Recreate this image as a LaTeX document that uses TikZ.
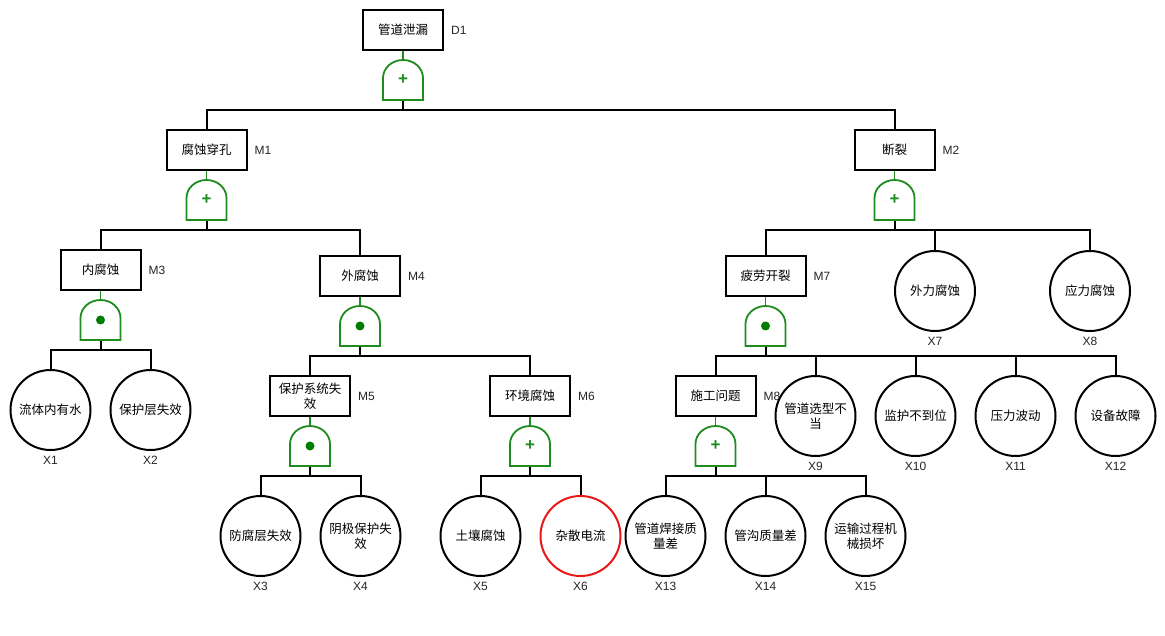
\documentclass[tikz,border=0pt]{standalone}
\usepackage{fontspec}
\setmainfont{Liberation Sans}
\newfontfamily\cjk{Noto Sans CJK SC}
\usetikzlibrary{positioning}

\definecolor{gatecol}{RGB}{30,140,30}
\definecolor{dotcol}{RGB}{0,125,0}
\definecolor{hotred}{RGB}{232,24,24}

\newcommand{\gatedome}{\draw[gatecol, line width=1.8pt]
  ([shift={(1pt,1pt)}]path picture bounding box.south west) -- ++(0pt,22pt)
  arc[start angle=180, end angle=0, x radius=20pt, y radius=18pt]
  -- ([shift={(-1pt,1pt)}]path picture bounding box.south east) -- cycle;}

\tikzset{
  event/.style={draw, line width=2pt, minimum width=80pt, minimum height=40pt,
    inner sep=1pt, align=center, font=\cjk\fontsize{12.5}{15}\selectfont},
  basic/.style={circle, draw, line width=2pt, minimum size=80pt, inner sep=0pt,
    align=center, font=\cjk\fontsize{12.5}{15}\selectfont},
  tag/.style={inner sep=1pt, font=\fontsize{12}{14}\selectfont, text=black!85},
  orgate/.style={minimum width=42pt, minimum height=42pt, inner sep=0pt,
    text=gatecol, font=\bfseries\fontsize{17}{17}\selectfont, path picture={\gatedome}},
  andgate/.style={minimum width=42pt, minimum height=42pt, inner sep=0pt,
    path picture={\gatedome
      \fill[dotcol] (path picture bounding box.center) circle[radius=4.5pt];}},
  feed/.style={gatecol, line width=1.8pt},
  link/.style={line width=2pt}
}

\begin{document}
\begin{tikzpicture}[x=1pt, y=-1pt]
\useasboundingbox[fill=white] (0,0) rectangle (1165,636);

% top event
\node[event] (D1) at (403,30) {管道泄漏};
\node[tag, right=6pt of D1] (tD1) {D1};
\node[orgate] (gD1) at (403,80) {+};
\draw[feed] (D1) -- (gD1);

% second level
\node[event] (M1) at (206.5,150) {腐蚀穿孔};
\node[tag, right=6pt of M1] (tM1) {M1};
\node[orgate] (gM1) at (206.5,200) {+};
\node[event] (M2) at (894.5,150) {断裂};
\node[tag, right=6pt of M2] (tM2) {M2};
\node[orgate] (gM2) at (894.5,200) {+};
\draw[link] (gD1.south) -- ++(0,9) -| (M1);
\draw[link] (gD1.south) -- ++(0,9) -| (M2);
\draw[feed] (M1) -- (gM1);
\draw[feed] (M2) -- (gM2);

% third level
\node[event] (M3) at (100.5,270) {内腐蚀};
\node[tag, right=6pt of M3] (tM3) {M3};
\node[andgate] (gM3) at (100.5,320) {};
\node[event] (M4) at (360,276) {外腐蚀};
\node[tag, right=6pt of M4] (tM4) {M4};
\node[andgate] (gM4) at (360,326) {};
\node[event] (M7) at (765.5,276) {疲劳开裂};
\node[tag, right=6pt of M7] (tM7) {M7};
\node[andgate] (gM7) at (765.5,326) {};
\node[basic] (X7) at (935,291) {外力腐蚀};
\node[basic] (X8) at (1090,291) {应力腐蚀};
\draw[link] (gM1.south) -- ++(0,9) -| (M3);
\draw[link] (gM1.south) -- ++(0,9) -| (M4);
\draw[link] (gM2.south) -- ++(0,9) -| (M7);
\draw[link] (gM2.south) -- ++(0,9) -| (X7);
\draw[link] (gM2.south) -- ++(0,9) -| (X8);
\draw[feed] (M3) -- (gM3);
\draw[feed] (M4) -- (gM4);
\draw[feed] (M7) -- (gM7);

% fourth level
\node[basic] (X1) at (50.5,410) {流体内有水};
\node[basic] (X2) at (150.5,410) {保护层失效};
\node[event] (M5) at (310,396) {保护系统失\\效};
\node[tag, right=6pt of M5] (tM5) {M5};
\node[andgate] (gM5) at (310,446) {};
\node[event] (M6) at (530,396) {环境腐蚀};
\node[tag, right=6pt of M6] (tM6) {M6};
\node[orgate] (gM6) at (530,446) {+};
\node[event] (M8) at (715.5,396) {施工问题};
\node[tag, right=6pt of M8] (tM8) {M8};
\node[orgate] (gM8) at (715.5,446) {+};
\node[basic] (X9) at (815.5,416) {管道选型不\\当};
\node[basic] (X10) at (915.5,416) {监护不到位};
\node[basic] (X11) at (1015.5,416) {压力波动};
\node[basic] (X12) at (1115.5,416) {设备故障};
\draw[link] (gM3.south) -- ++(0,9) -| (X1);
\draw[link] (gM3.south) -- ++(0,9) -| (X2);
\draw[link] (gM4.south) -- ++(0,9) -| (M5);
\draw[link] (gM4.south) -- ++(0,9) -| (M6);
\draw[link] (gM7.south) -- ++(0,9) -| (M8);
\draw[link] (gM7.south) -- ++(0,9) -| (X9);
\draw[link] (gM7.south) -- ++(0,9) -| (X10);
\draw[link] (gM7.south) -- ++(0,9) -| (X11);
\draw[link] (gM7.south) -- ++(0,9) -| (X12);
\draw[feed] (M5) -- (gM5);
\draw[feed] (M6) -- (gM6);
\draw[feed] (M8) -- (gM8);

% bottom level
\node[basic] (X3) at (260.5,536) {防腐层失效};
\node[basic] (X4) at (360.5,536) {阴极保护失\\效};
\node[basic] (X5) at (480.5,536) {土壤腐蚀};
\node[basic, draw=hotred] (X6) at (580.5,536) {杂散电流};
\node[basic] (X13) at (665.5,536) {管道焊接质\\量差};
\node[basic] (X14) at (765.5,536) {管沟质量差};
\node[basic] (X15) at (865.5,536) {运输过程机\\械损坏};
\draw[link] (gM5.south) -- ++(0,9) -| (X3);
\draw[link] (gM5.south) -- ++(0,9) -| (X4);
\draw[link] (gM6.south) -- ++(0,9) -| (X5);
\draw[link] (gM6.south) -- ++(0,9) -| (X6);
\draw[link] (gM8.south) -- ++(0,9) -| (X13);
\draw[link] (gM8.south) -- ++(0,9) -| (X14);
\draw[link] (gM8.south) -- ++(0,9) -| (X15);

\foreach \n in {1,...,15}
  \node[tag, below=4pt of X\n] (tX\n) {X\n};

\end{tikzpicture}
\end{document}
